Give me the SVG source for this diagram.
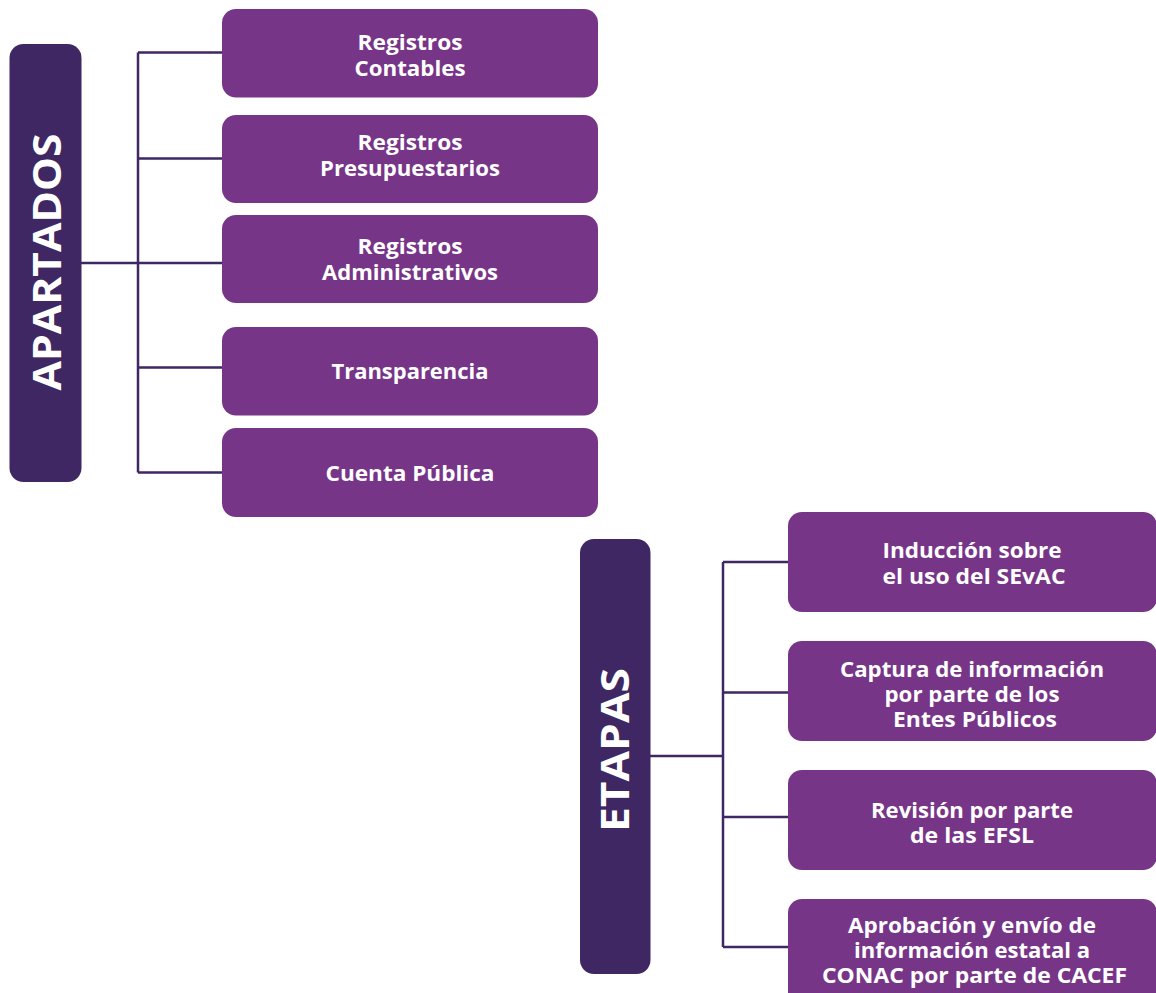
<svg xmlns="http://www.w3.org/2000/svg" width="1156" height="993" viewBox="0 0 1156 993">
<style>
.bar{fill:#3e2763}
.box{fill:#773588}
.t{font-family:"Open Sans","Liberation Sans",sans-serif;font-weight:700;font-size:20.5px;fill:#ffffff;text-anchor:middle}
.vt{font-family:"Open Sans","Liberation Sans",sans-serif;font-weight:700;font-size:40px;fill:#ffffff;text-anchor:middle}
.c{fill:none;stroke:#3e2763;stroke-width:2.5}
</style>
<rect width="1156" height="993" fill="#ffffff"/>
<g id="connectors">
<path class="c" d="M81,263 H138 M138,52.5 V472.5 M138,52.5 H222 M138,158.5 H222 M138,263 H222 M138,367.5 H222 M138,472.5 H222"/>
<path class="c" d="M650,756 H723 M723,562 V947 M723,562 H788 M723,692.5 H788 M723,817 H788 M723,947 H788"/>
</g>
<g id="apartados">
<rect class="bar" x="9.5" y="44" width="72" height="438" rx="14"/>
<text class="vt" transform="translate(61,262) rotate(-90)" textLength="257" lengthAdjust="spacingAndGlyphs">APARTADOS</text>
</g>
<g id="registros-contables">
<rect class="box" x="222" y="9" width="376" height="88.5" rx="14"/>
<text class="t" x="410" y="50" textLength="105" lengthAdjust="spacingAndGlyphs">Registros</text>
<text class="t" x="410" y="76" textLength="111" lengthAdjust="spacingAndGlyphs">Contables</text>
</g>
<g id="registros-presupuestarios">
<rect class="box" x="222" y="115" width="376" height="88" rx="14"/>
<text class="t" x="410" y="150" textLength="105" lengthAdjust="spacingAndGlyphs">Registros</text>
<text class="t" x="410" y="176" textLength="180" lengthAdjust="spacingAndGlyphs">Presupuestarios</text>
</g>
<g id="registros-administrativos">
<rect class="box" x="222" y="215" width="376" height="88" rx="14"/>
<text class="t" x="410" y="254" textLength="105" lengthAdjust="spacingAndGlyphs">Registros</text>
<text class="t" x="410" y="280" textLength="176" lengthAdjust="spacingAndGlyphs">Administrativos</text>
</g>
<g id="transparencia">
<rect class="box" x="222" y="327" width="376" height="88.5" rx="14"/>
<text class="t" x="410" y="379" textLength="157" lengthAdjust="spacingAndGlyphs">Transparencia</text>
</g>
<g id="cuenta-publica">
<rect class="box" x="222" y="428" width="376" height="89" rx="14"/>
<text class="t" x="410" y="481" textLength="169" lengthAdjust="spacingAndGlyphs">Cuenta Pública</text>
</g>
<g id="etapas">
<rect class="bar" x="580" y="539" width="70.5" height="435" rx="14"/>
<text class="vt" transform="translate(629,750) rotate(-90)" textLength="164" lengthAdjust="spacingAndGlyphs">ETAPAS</text>
</g>
<g id="induccion">
<rect class="box" x="788" y="512" width="369" height="100" rx="14"/>
<text class="t" x="972" y="558" textLength="179" lengthAdjust="spacingAndGlyphs">Inducción sobre</text>
<text class="t" x="974" y="584" textLength="183" lengthAdjust="spacingAndGlyphs">el uso del SEvAC</text>
</g>
<g id="captura">
<rect class="box" x="788" y="641" width="369" height="100" rx="14"/>
<text class="t" x="972" y="677" textLength="264" lengthAdjust="spacingAndGlyphs">Captura de información</text>
<text class="t" x="972" y="702" textLength="175" lengthAdjust="spacingAndGlyphs">por parte de los</text>
<text class="t" x="975" y="727" textLength="164" lengthAdjust="spacingAndGlyphs">Entes Públicos</text>
</g>
<g id="revision">
<rect class="box" x="788" y="770" width="369" height="100" rx="14"/>
<text class="t" x="972" y="818" textLength="202" lengthAdjust="spacingAndGlyphs">Revisión por parte</text>
<text class="t" x="972" y="843" textLength="124" lengthAdjust="spacingAndGlyphs">de las EFSL</text>
</g>
<g id="aprobacion">
<rect class="box" x="788" y="899" width="369" height="110" rx="14"/>
<text class="t" x="972" y="933" textLength="248" lengthAdjust="spacingAndGlyphs">Aprobación y envío de</text>
<text class="t" x="972" y="958" textLength="236" lengthAdjust="spacingAndGlyphs">información estatal a</text>
<text class="t" x="974.5" y="983" textLength="305" lengthAdjust="spacingAndGlyphs">CONAC por parte de CACEF</text>
</g>
</svg>
